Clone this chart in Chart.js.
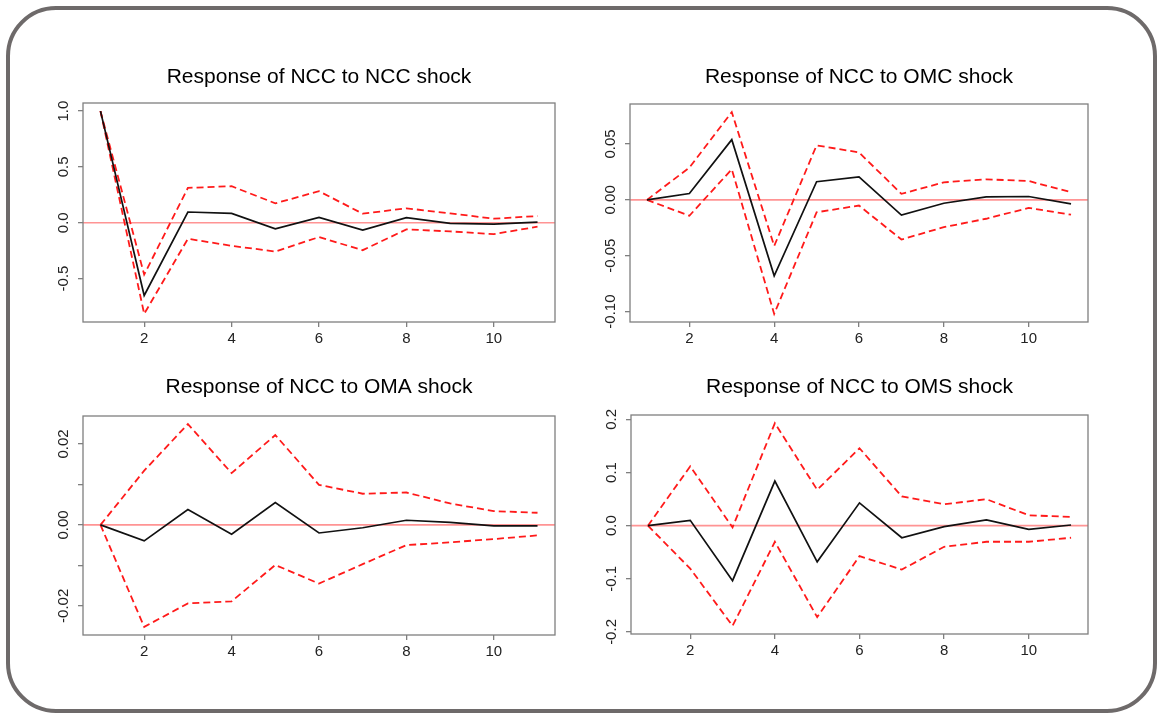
<!DOCTYPE html>
<html>
<head>
<meta charset="utf-8">
<script src="https://cdn.jsdelivr.net/npm/chart.js@4.4.1/dist/chart.umd.min.js"></script>
<style>
html,body{margin:0;padding:0;background:#fff;width:1157px;height:713px;overflow:hidden;position:relative;}
#frame{position:absolute;left:6px;top:6px;width:1151px;height:707px;box-sizing:border-box;border:4.5px solid #6e6a6a;border-radius:50px;}
canvas{position:absolute;}
</style>
</head>
<body>
<div id="frame"></div>
<canvas id="c1"></canvas>
<canvas id="c2"></canvas>
<canvas id="c3"></canvas>
<canvas id="c4"></canvas>
<script>
// ---- data ----
const horizon = [1, 2, 3, 4, 5, 6, 7, 8, 9, 10, 11];
const xTicks = [2, 4, 6, 8, 10];

const nccIrf   = [1.0, -0.652, 0.096, 0.084, -0.054, 0.048, -0.066, 0.045, -0.006, -0.012, 0.006];
const nccUpper = [1.0, -0.465, 0.312, 0.327, 0.174, 0.282, 0.081, 0.129, 0.084, 0.036, 0.060];
const nccLower = [1.0, -0.817, -0.144, -0.207, -0.258, -0.129, -0.246, -0.060, -0.078, -0.102, -0.036];

const omcIrf   = [0, 0.0057, 0.0539, -0.0680, 0.0163, 0.0205, -0.0136, -0.0030, 0.0027, 0.0030, -0.0036];
const omcUpper = [0, 0.0289, 0.0786, -0.0413, 0.0488, 0.0425, 0.0054, 0.0157, 0.0184, 0.0169, 0.0069];
const omcLower = [0, -0.0142, 0.0274, -0.1021, -0.0111, -0.0051, -0.0355, -0.0244, -0.0169, -0.0072, -0.0133];

const omaIrf   = [0, -0.00395, 0.0038, -0.0023, 0.0055, -0.0020, -0.0007, 0.00115, 0.0006, -0.00025, -0.00025];
const omaUpper = [0, 0.0134, 0.0249, 0.0128, 0.0222, 0.0099, 0.0077, 0.0080, 0.0053, 0.0034, 0.0030];
const omaLower = [0, -0.0252, -0.0194, -0.0189, -0.0099, -0.0145, -0.0097, -0.0050, -0.0043, -0.0035, -0.0026];

const omsIrf   = [0, 0.0101, -0.1035, 0.0839, -0.0681, 0.0429, -0.0227, -0.0019, 0.0107, -0.0069, 0.0013];
const omsUpper = [0, 0.1117, -0.0032, 0.1930, 0.0675, 0.1457, 0.0549, 0.0404, 0.0498, 0.0196, 0.0164];
const omsLower = [0, -0.0808, -0.1886, -0.0303, -0.1722, -0.0574, -0.0826, -0.0397, -0.0303, -0.0303, -0.0227];

const nccTicks = [-0.5, 0, 0.5, 1.0];
const nccLabels = ['-0.5', '0.0', '0.5', '1.0'];
const omcTicks = [-0.10, -0.05, 0, 0.05];
const omcLabels = ['-0.10', '-0.05', '0.00', '0.05'];
const omaTicks = [-0.02, -0.01, 0, 0.01, 0.02];
const omaLabels = ['-0.02', '', '0.00', '', '0.02'];
const omsTicks = [-0.2, -0.1, 0, 0.1, 0.2];
const omsLabels = ['-0.2', '-0.1', '0.0', '0.1', '0.2'];

const titles = ['Response of NCC to NCC shock', 'Response of NCC to OMC shock',
                'Response of NCC to OMA shock', 'Response of NCC to OMS shock'];

// ---- drawing ----
const FONT = "'Liberation Sans', Arial, Helvetica, sans-serif";
const AXIS_GRAY = '#7f7f7f';
const TICK_SIZE = 15;
const TITLE_SIZE = 21;

const boxPlugin = {
  id: 'rbox',
  beforeDatasetsDraw(chart) {
    const {ctx, chartArea: a, scales: {y}} = chart;
    const y0 = y.getPixelForValue(0);
    ctx.save();
    ctx.strokeStyle = 'rgba(255,60,60,0.55)';
    ctx.lineWidth = 1.6;
    ctx.beginPath();
    ctx.moveTo(a.left, y0);
    ctx.lineTo(a.right, y0);
    ctx.stroke();
    ctx.restore();
  },
  afterDraw(chart, args, opts) {
    const {ctx, chartArea: a, scales: {y}} = chart;
    ctx.save();
    ctx.strokeStyle = AXIS_GRAY;
    ctx.lineWidth = 1.3;
    ctx.strokeRect(a.left, a.top, a.right - a.left, a.bottom - a.top);
    ctx.fillStyle = '#222';
    ctx.font = TICK_SIZE + 'px ' + FONT;
    ctx.textAlign = 'center';
    ctx.textBaseline = 'alphabetic';
    y.ticks.forEach((t, i) => {
      const lab = opts.labels[i];
      if (!lab) return;
      const py = y.getPixelForValue(t.value);
      ctx.save();
      ctx.translate(a.left - 15, py);
      ctx.rotate(-Math.PI / 2);
      ctx.fillText(lab, 0, 0);
      ctx.restore();
    });
    ctx.restore();
  }
};

function makePanel(id, title, irf, lower, upper, yTicks, yLabels, area, titleMid) {
  const LW = 70, TH = 50, RP = 15, BH = 45;
  const cv = document.getElementById(id);
  const w = area.r - area.l + LW + RP;
  const h = area.b - area.t + TH + BH;
  cv.width = w; cv.height = h;
  cv.style.width = w + 'px'; cv.style.height = h + 'px';
  cv.style.left = (area.l - LW) + 'px';
  cv.style.top = (area.t - TH) + 'px';

  const all = irf.concat(lower, upper);
  const lo = Math.min(...all), hi = Math.max(...all);
  const pad = 0.04 * (hi - lo);
  const x0 = horizon[0], x1 = horizon[horizon.length - 1];
  const xpad = 0.04 * (x1 - x0);
  const pts = arr => horizon.map((x, i) => ({x: x, y: arr[i]}));
  const lineH = TITLE_SIZE * 1.2;
  const padTop = (TH - titleMid) - lineH / 2;
  const padBottom = TH - padTop - lineH;

  const gridOpts = {drawOnChartArea: false, drawTicks: true, tickLength: 5, color: AXIS_GRAY, lineWidth: 1.3};

  new Chart(cv, {
    type: 'line',
    data: {
      datasets: [
        {data: pts(irf), borderColor: '#111', borderWidth: 1.7, pointRadius: 0, tension: 0, fill: false},
        {data: pts(upper), borderColor: '#ff1a1a', borderWidth: 1.8, borderDash: [7, 4], pointRadius: 0, tension: 0, fill: false},
        {data: pts(lower), borderColor: '#ff1a1a', borderWidth: 1.8, borderDash: [7, 4], pointRadius: 0, tension: 0, fill: false}
      ]
    },
    options: {
      responsive: false,
      animation: false,
      devicePixelRatio: 1,
      events: [],
      layout: {padding: {left: 0, right: RP, top: 0, bottom: 0}},
      plugins: {
        legend: {display: false},
        tooltip: {enabled: false},
        title: {
          display: true, text: title, fullSize: false, color: '#000',
          font: {family: FONT, size: TITLE_SIZE, weight: 'normal', lineHeight: 1.2},
          padding: {top: padTop, bottom: padBottom}
        },
        rbox: {labels: yLabels}
      },
      scales: {
        x: {
          type: 'linear', min: x0 - xpad, max: x1 + xpad,
          afterBuildTicks: s => { s.ticks = xTicks.map(v => ({value: v})); },
          afterFit: s => { s.height = BH; },
          grid: gridOpts,
          border: {display: false},
          ticks: {font: {family: FONT, size: TICK_SIZE}, color: '#222', padding: 3, maxRotation: 0, autoSkip: false}
        },
        y: {
          type: 'linear', min: lo - pad, max: hi + pad,
          afterBuildTicks: s => { s.ticks = yTicks.map(v => ({value: v})); },
          afterFit: s => { s.width = LW; },
          grid: gridOpts,
          border: {display: false},
          ticks: {display: false}
        }
      }
    },
    plugins: [boxPlugin]
  });
}

makePanel('c1', titles[0], nccIrf, nccLower, nccUpper, nccTicks, nccLabels, {l: 83, t: 103, r: 555, b: 322}, 26);
makePanel('c2', titles[1], omcIrf, omcLower, omcUpper, omcTicks, omcLabels, {l: 630, t: 104, r: 1088, b: 322}, 27);
makePanel('c3', titles[2], omaIrf, omaLower, omaUpper, omaTicks, omaLabels, {l: 83, t: 416, r: 555, b: 635}, 29);
makePanel('c4', titles[3], omsIrf, omsLower, omsUpper, omsTicks, omsLabels, {l: 631, t: 415, r: 1088, b: 634}, 28);
</script>
</body>
</html>
